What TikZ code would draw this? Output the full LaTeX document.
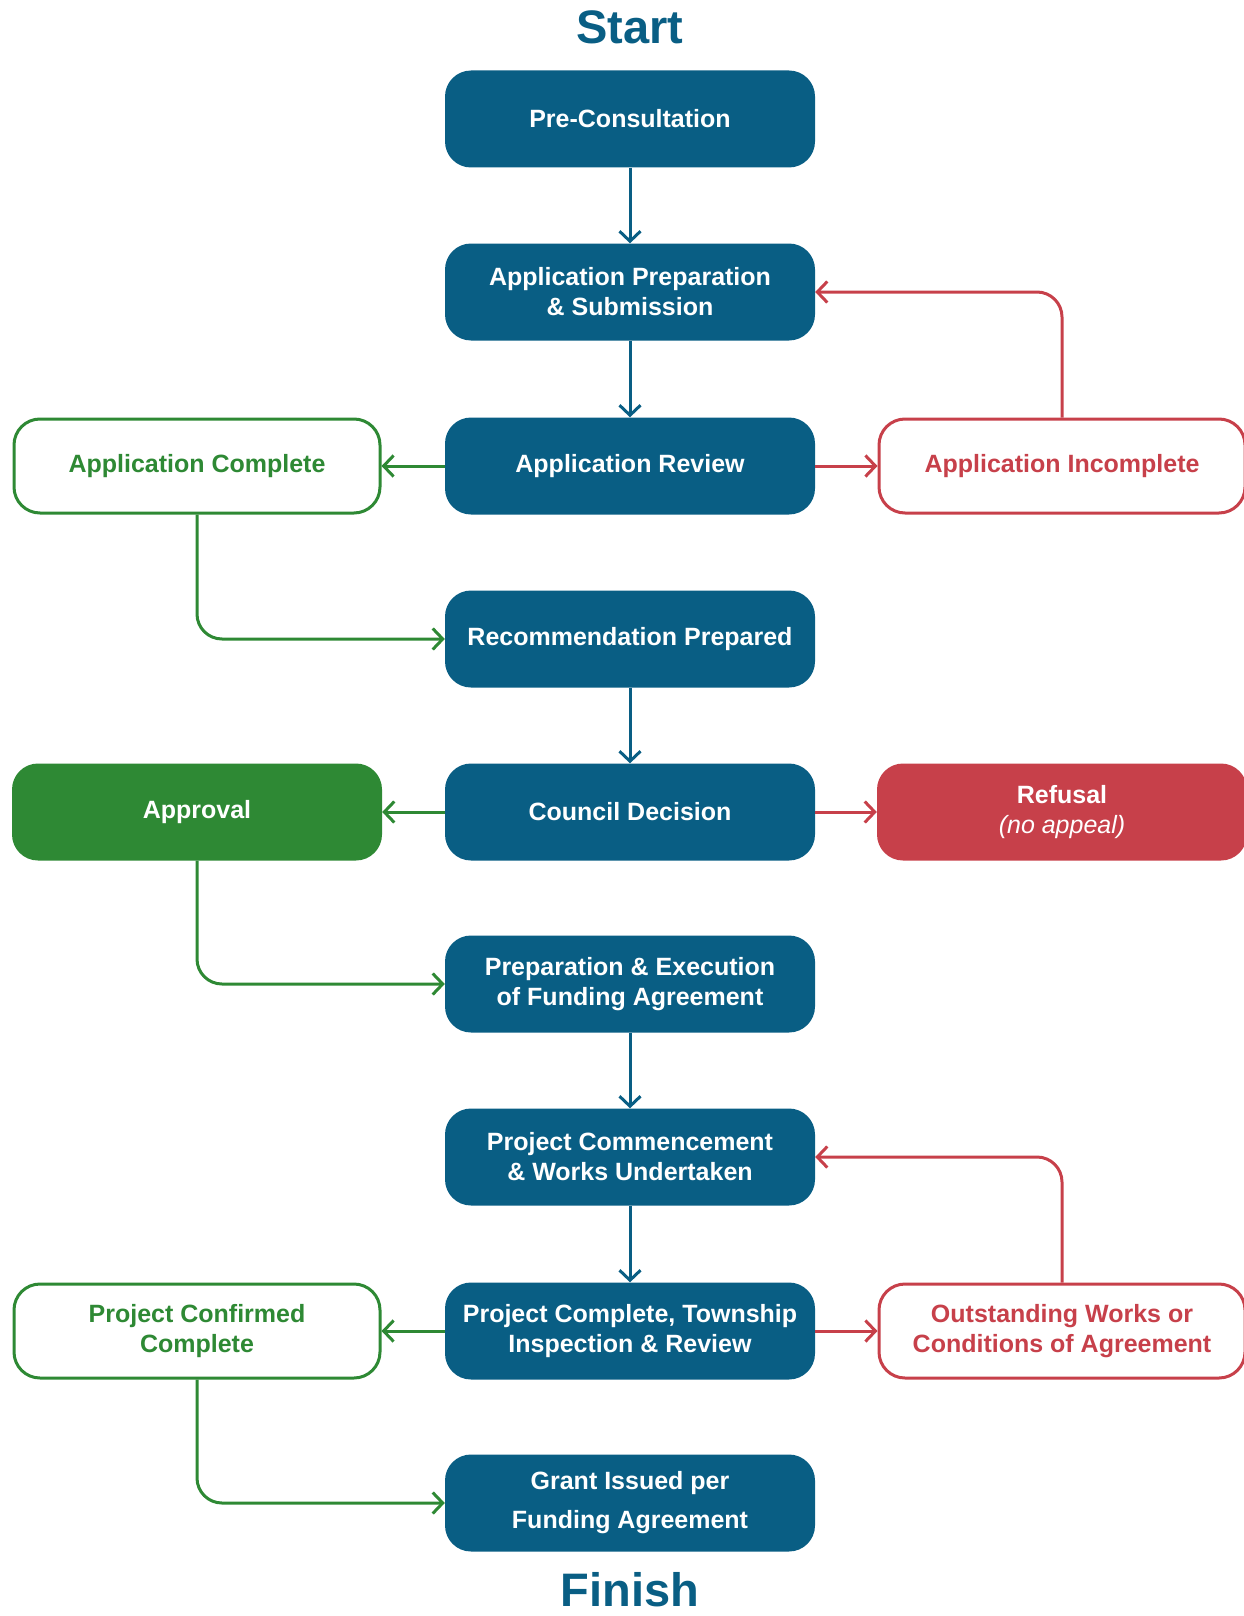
\documentclass[tikz,border=0pt]{standalone}
\usepackage{fontspec}
\setmainfont{Liberation Sans}
\usetikzlibrary{arrows.meta}
\definecolor{flowblue}{RGB}{9,94,132}
\definecolor{flowgreen}{RGB}{46,137,52}
\definecolor{flowred}{RGB}{199,64,74}

\begin{document}
\begin{tikzpicture}[x=1pt, y=-1pt,
    stepbox/.style={rectangle, rounded corners=26pt, fill=flowblue, text=white, minimum width=370pt, minimum height=97pt, align=center, font=\fontsize{25}{30}\selectfont\bfseries},
    okbox/.style={stepbox, fill=white, draw=flowgreen, line width=3pt, text=flowgreen, minimum width=366pt, minimum height=94pt},
    nobox/.style={okbox, draw=flowred, text=flowred},
    okfill/.style={stepbox, fill=flowgreen},
    nofill/.style={stepbox, fill=flowred},
    titletext/.style={anchor=base, inner sep=0pt, text=flowblue, font=\fontsize{47}{50}\selectfont\bfseries},
    blueline/.style={draw=flowblue, line width=3pt, -{Straight Barb[length=10pt, width=21pt]}},
    greenline/.style={blueline, draw=flowgreen},
    redline/.style={blueline, draw=flowred}
  ]
            \useasboundingbox (0,0) rectangle (1243,1616);

            % Nodes
            \node[titletext] (start) at (630,44) {Start};
            \node[stepbox] (precons) at (630,119) {Pre-Consultation};
            \node[stepbox] (appprep) at (630,292) {Application Preparation\\ \& Submission};
            \node[stepbox] (appreview) at (630,466) {Application Review};
            \node[okbox] (appcomplete) at (197,466) {Application Complete};
            \node[nobox] (appincomplete) at (1062,466) {Application Incomplete};
            \node[stepbox] (recommend) at (630,639) {Recommendation Prepared};
            \node[stepbox] (council) at (630,812) {Council Decision};
            \node[okfill] (approval) at (197,812) {Approval};
            \node[nofill] (refusal) at (1062,812) {Refusal\\ {\mdseries\itshape (no appeal)}};
            \node[stepbox] (agreement) at (630,984) {Preparation \& Execution\\ of Funding Agreement};
            \node[stepbox] (works) at (630,1157) {Project Commencement\\ \& Works Undertaken};
            \node[stepbox] (inspection) at (630,1331) {Project Complete, Township\\ Inspection \& Review};
            \node[okbox] (confirmed) at (197,1331) {Project Confirmed\\ Complete};
            \node[nobox] (outstanding) at (1062,1331) {Outstanding Works or\\ Conditions of Agreement};
            \node[stepbox, font=\fontsize{25}{39}\selectfont\bfseries] (grant) at (630,1503) {Grant Issued per\\ Funding Agreement};
            \node[titletext] (finish) at (630,1606) {Finish};

            % Lines
            \draw[blueline] (precons) -- (appprep);
            \draw[blueline] (appprep) -- (appreview);
            \draw[greenline] (appreview) -- (appcomplete);
            \draw[redline] (appreview) -- (appincomplete);
            \draw[redline, rounded corners=25pt] (appincomplete.north) |- (appprep.east);
            \draw[greenline, rounded corners=25pt] (appcomplete.south) |- (recommend.west);
            \draw[blueline] (recommend) -- (council);
            \draw[greenline] (council) -- (approval);
            \draw[redline] (council) -- (refusal);
            \draw[greenline, rounded corners=25pt] (approval.south) |- (agreement.west);
            \draw[blueline] (agreement) -- (works);
            \draw[blueline] (works) -- (inspection);
            \draw[greenline] (inspection) -- (confirmed);
            \draw[redline] (inspection) -- (outstanding);
            \draw[redline, rounded corners=25pt] (outstanding.north) |- (works.east);
            \draw[greenline, rounded corners=25pt] (confirmed.south) |- (grant.west);
        \end{tikzpicture}
\end{document}
